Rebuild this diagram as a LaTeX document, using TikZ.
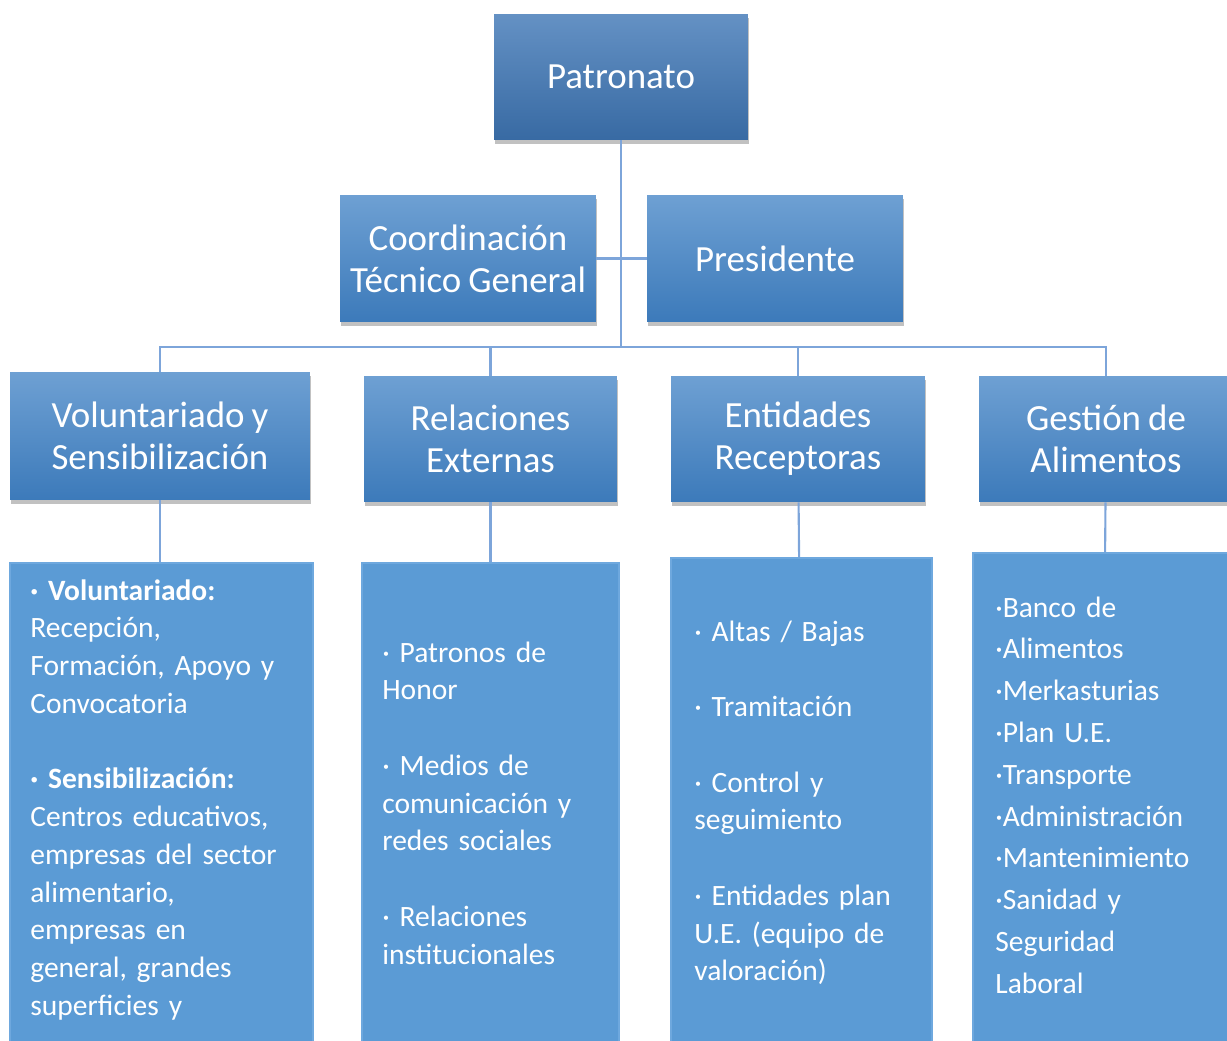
\documentclass[tikz,border=0pt]{standalone}
\usepackage{fontspec}
\setmainfont{Carlito}[WordSpace=0.85]
\usetikzlibrary{shadows}

\definecolor{patTop}{RGB}{100,145,196}
\definecolor{patBot}{RGB}{56,106,163}
\definecolor{boxTop}{RGB}{110,160,211}
\definecolor{boxBot}{RGB}{60,122,186}
\definecolor{listFill}{RGB}{91,155,213}
\definecolor{listEdge}{RGB}{110,168,222}
\definecolor{linkBlue}{RGB}{125,165,218}

\tikzset{
  unitbox/.style={rectangle, inner sep=0pt, text=white, align=center,
    top color=boxTop, bottom color=boxBot,
    font=\fontsize{21}{24}\selectfont,
    drop shadow={shadow xshift=.6pt, shadow yshift=-2.2pt, opacity=.35, fill=black!70}},
  topbox/.style={unitbox, top color=patTop, bottom color=patBot},
  listbox/.style={rectangle, inner sep=0pt, anchor=north, fill=listFill, draw=listEdge, line width=1pt},
  listtext/.style={anchor=base west, inner sep=0pt, text=white, text width=5.6cm, align=left,
    font=\fontsize{16.8}{21.5}\selectfont},
  link/.style={draw=linkBlue, line width=1.2pt}
}

\begin{document}
\begin{tikzpicture}[x=0.02cm,y=-0.02cm]
    \useasboundingbox (0,0) rectangle (1227,1041);
    \clip (0,0) rectangle (1227,1041);
    \begin{scope}
      % top of the chart
      \node[topbox, minimum width=5.08cm, minimum height=2.52cm] (pat) at (621,77) {Patronato};
      \node[unitbox, minimum width=5.12cm, minimum height=2.54cm] (coord) at (468,258.5) {Coordinación\\Técnico General};
      \node[unitbox, minimum width=5.12cm, minimum height=2.54cm] (pres) at (775,258.5) {Presidente};

      % areas
      \node[unitbox, minimum width=6.0cm, minimum height=2.56cm] (vol) at (160,436) {Voluntariado y\\Sensibilización};
      \node[unitbox, minimum width=5.06cm, minimum height=2.52cm] (rel) at (490.5,439) {Relaciones\\Externas};
      \node[unitbox, minimum width=5.08cm, minimum height=2.52cm] (ent) at (798,439) {Entidades\\Receptoras};
      \node[unitbox, minimum width=5.08cm, minimum height=2.52cm] (gest) at (1106,439) {Gestión de\\Alimentos};

      % lists
      \node[listbox, minimum width=6.06cm, minimum height=10.4cm] (volL) at (161.5,562) {};
      \node[listbox, minimum width=5.14cm, minimum height=10.4cm] (relL) at (490.5,562) {};
      \node[listbox, minimum width=5.22cm, minimum height=10.5cm] (entL) at (801.5,557) {};
      \node[listbox, minimum width=5.2cm, minimum height=10.6cm] (gestL) at (1103,552) {};

      \node[listtext] (volT) at (30,600) {{\bfseries · Voluntariado:}\\Recepción,\\Formación, Apoyo y\\Convocatoria\\[21.5pt]
        {\bfseries · Sensibilización:}\\Centros educativos,\\empresas del sector\\alimentario,\\empresas en\\general, grandes\\superficies y};
      \node[listtext] (relT) at (382,662) {· Patronos de\\Honor\\[21.5pt]· Medios de\\comunicación y\\redes sociales\\[21.5pt]
        · Relaciones\\institucionales};
      \node[listtext] (entT) at (694,641) {· Altas / Bajas\\[21.5pt]· Tramitación\\[21.5pt]· Control y\\seguimiento\\[21.5pt]
        · Entidades plan\\U.E. (equipo de\\valoración)};
      \node[listtext, font=\fontsize{16.8}{23.8}\selectfont] (gestT) at (995,617) {·Banco de\\·Alimentos\\·Merkasturias\\·Plan U.E.\\
        ·Transporte\\·Administración\\·Mantenimiento\\·Sanidad y\\Seguridad\\Laboral};

      % connectors
      \coordinate (bus) at (621,347);
      \draw[link] (pat) -- (bus);
      \draw[link] (coord) -- (pres);
      \draw[link] (bus) -| (vol);
      \draw[link] (bus) -| (rel);
      \draw[link] (bus) -| (ent);
      \draw[link] (bus) -| (gest);
      \draw[link] (vol.south) -- (vol.south |- volL.north);
      \draw[link] (rel) -- (relL);
      \draw[link] (ent) -- (entL);
      \draw[link] (gest) -- (gestL);
    \end{scope}
\end{tikzpicture}
\end{document}
